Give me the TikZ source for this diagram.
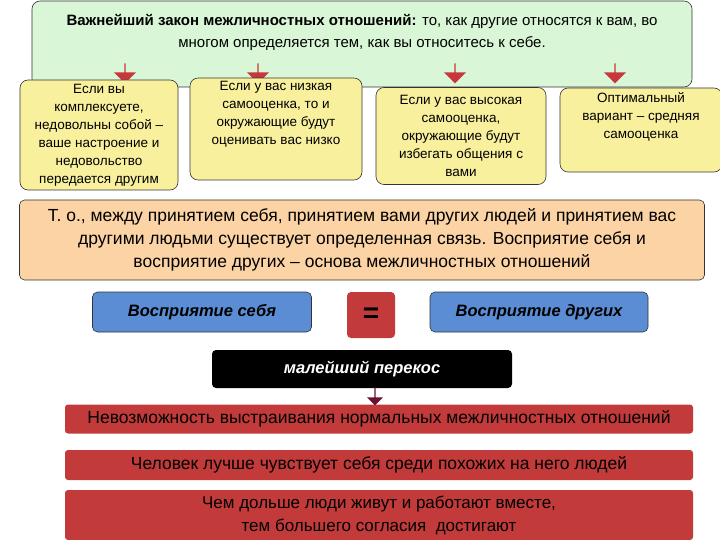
\documentclass[tikz,border=0pt]{standalone}
\usepackage{fontspec}
\setmainfont{Liberation Sans}
\usetikzlibrary{shapes.arrows}
\definecolor{gr}{HTML}{D9F7D6}
\definecolor{ye}{HTML}{F9F09E}
\definecolor{orn}{HTML}{FBD3A4}
\definecolor{bl}{HTML}{5A8DD4}
\definecolor{rd}{HTML}{C23A3A}
\definecolor{ar}{HTML}{C8373A}
\definecolor{dr}{HTML}{6A1030}
\begin{document}
\begin{tikzpicture}[x=1pt,y=-1pt,
  box/.style={draw=black!80,rounded corners=8pt,line width=0.6pt},
  yb/.style={box,fill=ye,align=center,font=\fontsize{13.5}{18}\selectfont},
  rb/.style={draw=none,rounded corners=3pt,fill=rd,font=\fontsize{17.5}{21}\selectfont,align=center},
  dn/.style={single arrow,shape border rotate=270,fill=ar,draw=none,minimum height=20pt,minimum width=22pt,single arrow head extend=3pt,inner sep=0pt}]
\useasboundingbox (0,0) rectangle (720,540);
\node[box,fill=gr,minimum width=660pt,minimum height=86pt,align=center,font=\fontsize{15}{22}\selectfont] (top) at (362,44)
 {\textbf{Важнейший закон межличностных отношений:} то, как другие относятся к вам, во\\многом определяется тем, как вы относитесь к себе.\\[4pt]};
\foreach \x/\n in {125/a1,258/a2,455/a3,615/a4}{\node[dn] (\n) at (\x,73) {};}
\node[yb,minimum width=158pt,minimum height=110pt] (y1) at (99,135) {Если вы\\комплексуете,\\недовольны собой –\\ваше настроение и\\недовольство\\передается другим};
\node[yb,minimum width=172pt,minimum height=98pt] (y2) at (276,129) {Если у вас низкая\\самооценка, то и\\окружающие будут\\оценивать вас низко\\[14pt]};
\node[yb,minimum width=170pt,minimum height=97pt] (y3) at (461,136) {Если у вас высокая\\самооценка,\\окружающие будут\\избегать общения с\\вами};
\node[yb,minimum width=162pt,minimum height=84pt] (y4) at (641,130) {Оптимальный\\вариант – средняя\\самооценка\\[12pt]};
\node[box,fill=orn,rounded corners=5pt,minimum width=685pt,minimum height=80pt,align=center,font=\fontsize{17.5}{23}\selectfont] (o) at (362,240)
 {Т. о., между принятием себя, принятием вами других людей и принятием вас\\другими людьми существует определенная связь. Восприятие себя и\\восприятие других – основа межличностных отношений};
\node[box,fill=bl,rounded corners=5pt,minimum width=219pt,minimum height=40pt,font=\fontsize{16.5}{18}\selectfont\bfseries\itshape] (b1) at (202,312) {Восприятие себя};
\node[draw=none,fill=rd,rounded corners=4pt,minimum width=48pt,minimum height=46pt,font=\fontsize{28}{28}\selectfont\bfseries] (eq) at (371,315) {=};
\node[box,fill=bl,rounded corners=5pt,minimum width=218pt,minimum height=40pt,font=\fontsize{16.5}{18}\selectfont\bfseries\itshape] (b2) at (539,312) {Восприятие других};
\node[fill=black,rounded corners=4pt,minimum width=300pt,minimum height=38pt,text=white,font=\fontsize{16.5}{18}\selectfont\bfseries\itshape] (k) at (362,369) {малейший перекос};
\node[rb,minimum width=628pt,minimum height=29pt] (r1) at (379,419) {Невозможность выстраивания нормальных межличностных отношений};
\node[single arrow,shape border rotate=270,fill=dr,minimum height=18pt,minimum width=16pt,single arrow head extend=2pt,inner sep=0pt] (s) at (375,396) {};
\node[rb,minimum width=628pt,minimum height=30pt] (r2) at (379,465) {Человек лучше чувствует себя среди похожих на него людей};
\node[rb,minimum width=628pt,minimum height=50pt,font=\fontsize{17}{23}\selectfont] (r3) at (379,515) {Чем дольше люди живут и работают вместе,\\тем большего согласия \ достигают};
\end{tikzpicture}
\end{document}
